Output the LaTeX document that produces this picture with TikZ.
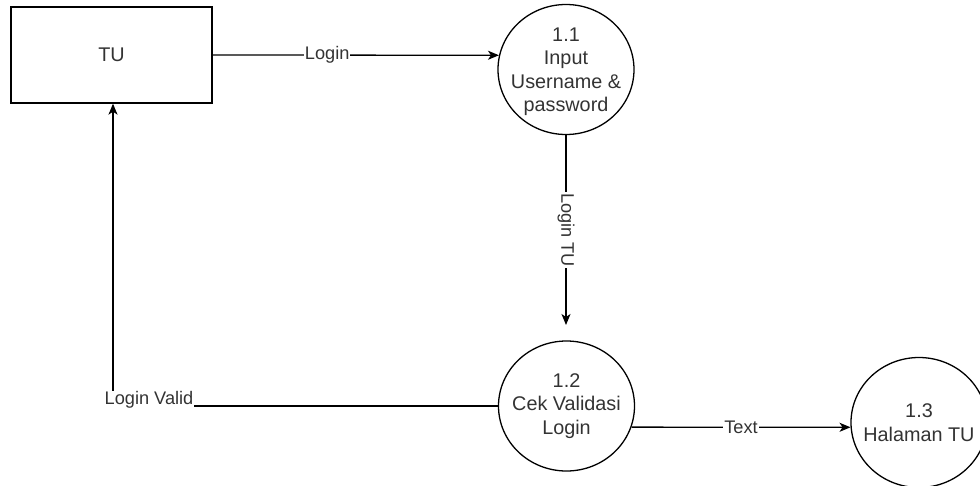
\documentclass[tikz,border=0pt]{standalone}
\usepackage{fontspec}
\setmainfont{Liberation Sans}
\usetikzlibrary{arrows.meta,shapes.geometric}
\definecolor{txt}{HTML}{333333}
\begin{document}
\begin{tikzpicture}[x=1pt,y=-1pt,
  line/.style={draw=black,line width=1.3pt},
  flow/.style={line,-{Stealth[length=11pt,width=9pt,inset=3pt]}},
  ext/.style={rectangle,line,minimum width=201pt,minimum height=96pt,inner sep=0pt,
    font=\fontsize{19.8}{23.5}\selectfont,text=txt},
  proc/.style={ellipse,line,minimum width=136pt,minimum height=130pt,inner sep=0pt},
  proctext/.style={align=center,font=\fontsize{19.8}{23.5}\selectfont,text=txt,inner sep=0pt},
  flowlabel/.style={fill=white,inner sep=1pt,font=\fontsize{18.2}{21.8}\selectfont,text=txt}
]
\useasboundingbox (0,0) rectangle (980,485);

% external entity and processes
\node[ext] (tu) at (111.5,55) {TU};
\node[proc,label={[proctext,yshift=-2pt]center:{1.1\\Input\\Username \&\\password}}] (p1) at (566,69.5) {};
\node[proc,label={[proctext]center:{1.2\\Cek Validasi\\Login}}] (p2) at (566.5,406) {};
\node[proc,label={[proctext]center:{1.3\\Halaman TU}}] (p3) at (919,422.5) {};

% data flows
\draw[flow] (tu.east) -- node[flowlabel,pos=0.4] (lblogin) {Login} (p1.168);

\coordinate (p2in) at (566,325);
\draw[flow] (p1.south) -- node[flowlabel,rotate=-90] (lbtu) {Login TU} (p2in);

\coordinate (lvx) at (113,406);
\draw[flow] (p2.west) -- (lvx) -- (lvx |- tu.south);
\node[flowlabel] (lbvalid) at (149,400) {Login Valid};

\draw[flow] (p2.-18) -- node[flowlabel] (lbtext) {Text} (p3.184);
\end{tikzpicture}
\end{document}
